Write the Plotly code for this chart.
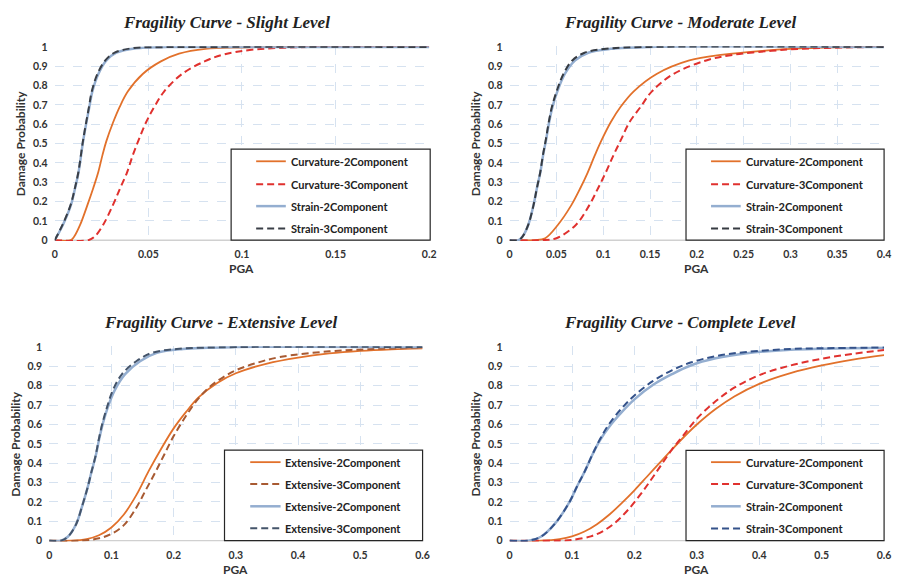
import plotly.graph_objects as go

W, H = 899, 578

# ------------------------------------------------------------------ data
titles = ["Fragility Curve - Slight Level", "Fragility Curve - Moderate Level",
          "Fragility Curve - Extensive Level", "Fragility Curve - Complete Level"]
names_cs = ["Curvature-2Component", "Curvature-3Component", "Strain-2Component", "Strain-3Component"]
names_ext = ["Extensive-2Component", "Extensive-3Component", "Extensive-2Component", "Extensive-3Component"]
x_title = "PGA"
y_title = "Damage Probability"

y_tick_vals = [0, 0.1, 0.2, 0.3, 0.4, 0.5, 0.6, 0.7, 0.8, 0.9, 1]
y_tick_text = ["0", "0.1", "0.2", "0.3", "0.4", "0.5", "0.6", "0.7", "0.8", "0.9", "1"]
x_ticks_slight = [0, 0.05, 0.1, 0.15, 0.2]
x_text_slight = ["0", "0.05", "0.1", "0.15", "0.2"]
x_ticks_moderate = [0, 0.05, 0.1, 0.15, 0.2, 0.25, 0.3, 0.35, 0.4]
x_text_moderate = ["0", "0.05", "0.1", "0.15", "0.2", "0.25", "0.3", "0.35", "0.4"]
x_ticks_wide = [0, 0.1, 0.2, 0.3, 0.4, 0.5, 0.6]
x_text_wide = ["0", "0.1", "0.2", "0.3", "0.4", "0.5", "0.6"]

# --- Slight level
slight_curv2_x = [0, 0.0085, 0.0105, 0.0136, 0.0174, 0.0206, 0.0232, 0.0255, 0.0275, 0.0312, 0.0347, 0.0391, 0.047, 0.0567, 0.0664, 0.0805, 0.1, 0.12, 0.2]
slight_curv2_y = [0, 0, 0.02, 0.08, 0.18, 0.27, 0.35, 0.44, 0.51, 0.61, 0.69, 0.77, 0.86, 0.925, 0.965, 0.99, 0.997, 1, 1]
slight_curv3_x = [0, 0.018, 0.0215, 0.0259, 0.031, 0.035, 0.0386, 0.0417, 0.0449, 0.0488, 0.0532, 0.0585, 0.068, 0.08, 0.09, 0.105, 0.13, 0.2]
slight_curv3_y = [0, 0, 0.02, 0.08, 0.18, 0.27, 0.35, 0.44, 0.52, 0.61, 0.69, 0.77, 0.86, 0.925, 0.96, 0.985, 0.998, 1]
slight_str2_x = [0, 0.0044, 0.0086, 0.0109, 0.0127, 0.0153, 0.0185, 0.0201, 0.0233, 0.0276, 0.0329, 0.0435, 0.06, 0.08, 0.2]
slight_str2_y = [0, 0.08, 0.18, 0.27, 0.35, 0.52, 0.69, 0.77, 0.86, 0.93, 0.97, 0.993, 0.999, 1, 1]
slight_str3_x = [0, 0.0042, 0.0084, 0.0108, 0.0126, 0.0152, 0.0183, 0.0198, 0.0228, 0.027, 0.032, 0.042, 0.06, 0.08, 0.2]
slight_str3_y = [0, 0.08, 0.18, 0.27, 0.35, 0.52, 0.69, 0.77, 0.86, 0.93, 0.97, 0.994, 0.999, 1, 1]

# --- Moderate level
moderate_curv2_x = [0, 0.027, 0.038, 0.0517, 0.0658, 0.0756, 0.0834, 0.0911, 0.0985, 0.108, 0.1186, 0.1326, 0.157, 0.192, 0.228, 0.27, 0.3, 0.35, 0.4]
moderate_curv2_y = [0, 0, 0.01, 0.08, 0.18, 0.27, 0.35, 0.44, 0.52, 0.61, 0.69, 0.77, 0.86, 0.93, 0.96, 0.98, 0.99, 0.998, 1]
moderate_curv3_x = [0, 0.034, 0.05, 0.071, 0.085, 0.0946, 0.1027, 0.111, 0.119, 0.128, 0.14, 0.152, 0.175, 0.21, 0.24, 0.28, 0.31, 0.37, 0.4]
moderate_curv3_y = [0, 0, 0.01, 0.08, 0.18, 0.27, 0.35, 0.44, 0.52, 0.61, 0.69, 0.77, 0.86, 0.93, 0.96, 0.98, 0.99, 0.998, 1]
moderate_str2_x = [0, 0.0095, 0.014, 0.02, 0.0255, 0.0292, 0.0328, 0.0358, 0.039, 0.0422, 0.0458, 0.051, 0.059, 0.07, 0.084, 0.108, 0.15, 0.4]
moderate_str2_y = [0, 0, 0.02, 0.08, 0.18, 0.27, 0.35, 0.44, 0.52, 0.61, 0.69, 0.77, 0.86, 0.93, 0.97, 0.99, 1, 1]
moderate_str3_x = [0, 0.0095, 0.014, 0.02, 0.0255, 0.0292, 0.0327, 0.0356, 0.0387, 0.0418, 0.0452, 0.0502, 0.0575, 0.067, 0.08, 0.103, 0.15, 0.4]
moderate_str3_y = [0, 0, 0.02, 0.08, 0.18, 0.27, 0.35, 0.44, 0.52, 0.61, 0.69, 0.77, 0.86, 0.93, 0.97, 0.99, 1, 1]

# --- Extensive level
extensive_o2_x = [0, 0.035, 0.06, 0.08, 0.1, 0.12, 0.14, 0.16, 0.18, 0.2, 0.22, 0.24, 0.27, 0.3, 0.35, 0.4, 0.45, 0.5, 0.55, 0.6]
extensive_o2_y = [0, 0, 0.008, 0.028, 0.068, 0.135, 0.235, 0.36, 0.475, 0.58, 0.665, 0.74, 0.815, 0.865, 0.915, 0.946, 0.967, 0.98, 0.988, 0.993]
extensive_o3_x = [0, 0.051, 0.08, 0.1, 0.12, 0.14, 0.155, 0.17, 0.185, 0.2, 0.22, 0.24, 0.26, 0.28, 0.3, 0.33, 0.37, 0.45, 0.52, 0.6]
extensive_o3_y = [0, 0, 0.012, 0.035, 0.08, 0.17, 0.26, 0.35, 0.445, 0.54, 0.645, 0.735, 0.8, 0.845, 0.88, 0.915, 0.948, 0.978, 0.99, 0.997]
extensive_b2_x = [0, 0.019, 0.03, 0.043, 0.0535, 0.0614, 0.0678, 0.0747, 0.08, 0.0863, 0.0943, 0.105, 0.122, 0.146, 0.173, 0.215, 0.3, 0.6]
extensive_b2_y = [0, 0, 0.02, 0.083, 0.184, 0.27, 0.353, 0.437, 0.52, 0.606, 0.69, 0.775, 0.86, 0.927, 0.97, 0.99, 1, 1]
extensive_b3_x = [0, 0.019, 0.03, 0.043, 0.0535, 0.0614, 0.0678, 0.0745, 0.0795, 0.0855, 0.093, 0.102, 0.117, 0.14, 0.165, 0.205, 0.3, 0.6]
extensive_b3_y = [0, 0, 0.02, 0.083, 0.184, 0.27, 0.353, 0.437, 0.52, 0.606, 0.69, 0.775, 0.86, 0.927, 0.97, 0.99, 1, 1]

# --- Complete level
complete_curv2_x = [0, 0.05, 0.08, 0.1, 0.12, 0.14, 0.16, 0.18, 0.2, 0.22, 0.24, 0.26, 0.28, 0.3, 0.33, 0.36, 0.4, 0.45, 0.5, 0.55, 0.6]
complete_curv2_y = [0, 0, 0.008, 0.022, 0.047, 0.085, 0.135, 0.195, 0.26, 0.33, 0.4, 0.47, 0.538, 0.6, 0.68, 0.745, 0.81, 0.865, 0.905, 0.935, 0.958]
complete_curv3_x = [0, 0.08, 0.1, 0.13, 0.15, 0.17, 0.19, 0.21, 0.23, 0.26, 0.28, 0.3, 0.33, 0.36, 0.4, 0.45, 0.5, 0.55, 0.6]
complete_curv3_y = [0, 0, 0.004, 0.022, 0.05, 0.095, 0.16, 0.24, 0.33, 0.47, 0.55, 0.63, 0.72, 0.79, 0.855, 0.905, 0.94, 0.965, 0.985]
complete_str2_x = [0, 0.03, 0.05, 0.072, 0.096, 0.108, 0.12, 0.132, 0.145, 0.16, 0.18, 0.2, 0.23, 0.26, 0.29, 0.33, 0.38, 0.45, 0.5, 0.6]
complete_str2_y = [0, 0, 0.02, 0.085, 0.2, 0.28, 0.355, 0.44, 0.52, 0.59, 0.665, 0.73, 0.805, 0.86, 0.905, 0.942, 0.968, 0.986, 0.991, 0.997]
complete_str3_x = [0, 0.03, 0.05, 0.072, 0.096, 0.108, 0.12, 0.132, 0.145, 0.16, 0.18, 0.2, 0.23, 0.26, 0.29, 0.33, 0.38, 0.45, 0.5, 0.6]
complete_str3_y = [0, 0, 0.02, 0.085, 0.2, 0.28, 0.355, 0.44, 0.525, 0.605, 0.685, 0.75, 0.825, 0.88, 0.92, 0.953, 0.975, 0.99, 0.994, 0.998]

# ------------------------------------------------------------------ styles
ORANGE = "#E2712B"
RED = "#E0312E"
LIGHTBLUE = "#94AED0"
BROWN = "#A85A32"
TICK_FONT = dict(family="Lato", size=10.5, color="#333333", weight="bold")
LEG_FONT = dict(family="Lato", size=11, color="#222222", weight="bold")
AX_FONT = dict(family="Lato", size=12, color="#333333", weight="bold")
TITLE_FONT = dict(family="Liberation Serif", size=17, color="#222222", weight="bold", style="italic")
DASH = "7px,4px"

panels = [
    dict(title=titles[0], names=names_cs, xt=x_ticks_slight, xtt=x_text_slight, xr=0.2,
         plot=(52.3, 431.0, 41.7, 238.7), title_xy=(226, 17), ytitle_x=18, xtitle_y=268,
         legend=(230.7, 432.0, 146.0, 238.7), leg_rows=(158.3, 181.7, 204.0, 226.7), leg_x=(256, 286, 289.5),
         series=[(slight_curv2_x, slight_curv2_y, ORANGE, "solid", 1.8),
                 (slight_curv3_x, slight_curv3_y, RED, DASH, 2.0),
                 (slight_str2_x, slight_str2_y, LIGHTBLUE, "solid", 2.5),
                 (slight_str3_x, slight_str3_y, "#3A3F47", DASH, 2.0)]),
    dict(title=titles[1], names=names_cs, xt=x_ticks_moderate, xtt=x_text_moderate, xr=0.4,
         plot=(512.3, 891.0, 41.7, 238.7), title_xy=(685, 17), ytitle_x=478, xtitle_y=268,
         legend=(690.7, 891.0, 146.0, 238.7), leg_rows=(158.3, 181.7, 204.0, 226.7), leg_x=(716, 746, 749.5),
         series=[(moderate_curv2_x, moderate_curv2_y, ORANGE, "solid", 1.8),
                 (moderate_curv3_x, moderate_curv3_y, RED, DASH, 2.0),
                 (moderate_str2_x, moderate_str2_y, LIGHTBLUE, "solid", 2.5),
                 (moderate_str3_x, moderate_str3_y, "#363B42", DASH, 2.0)]),
    dict(title=titles[2], names=names_ext, xt=x_ticks_wide, xtt=x_text_wide, xr=0.6,
         plot=(46.7, 424.3, 347.7, 545.0), title_xy=(220, 323), ytitle_x=13, xtitle_y=574,
         legend=(224.0, 424.3, 452.7, 545.0), leg_rows=(465.0, 487.3, 510.0, 532.3), leg_x=(250, 280.7, 283.5),
         series=[(extensive_o2_x, extensive_o2_y, ORANGE, "solid", 1.8),
                 (extensive_o3_x, extensive_o3_y, BROWN, DASH, 2.0),
                 (extensive_b2_x, extensive_b2_y, LIGHTBLUE, "solid", 2.5),
                 (extensive_b3_x, extensive_b3_y, "#44546A", DASH, 2.0)]),
    dict(title=titles[3], names=names_cs, xt=x_ticks_wide, xtt=x_text_wide, xr=0.6,
         plot=(512.3, 891.0, 347.7, 545.0), title_xy=(685, 323), ytitle_x=478, xtitle_y=574,
         legend=(690.7, 891.0, 453.0, 545.0), leg_rows=(465.0, 487.3, 510.0, 532.7), leg_x=(716, 746, 749.5),
         series=[(complete_curv2_x, complete_curv2_y, ORANGE, "solid", 1.8),
                 (complete_curv3_x, complete_curv3_y, RED, DASH, 2.0),
                 (complete_str2_x, complete_str2_y, LIGHTBLUE, "solid", 2.5),
                 (complete_str3_x, complete_str3_y, "#34528A", DASH, 2.0)]),
]


def px(x):
    return x / W


def py(y):
    return 1 - y / H


PAD = 0.004  # small range padding so lines at 0 and 1 are not clipped
fig = go.Figure()
shapes, annotations = [], []
layout = {}

for i, p in enumerate(panels, start=1):
    sfx = "" if i == 1 else str(i)
    xa, ya = "x" + sfx, "y" + sfx
    x0, x1, yt, yb = p["plot"]
    h = yb - yt
    ext = h * PAD
    layout["xaxis" + sfx] = dict(
        domain=[px(x0), px(x1)], range=[0, p["xr"]], anchor=ya,
        tickvals=p["xt"], ticktext=p["xtt"], tickfont=TICK_FONT, ticks="",
        showgrid=True, gridcolor="#D6E2F0", griddash="dash", gridwidth=1,
        zeroline=False, showline=False, ticklabelstandoff=6, fixedrange=True)
    layout["yaxis" + sfx] = dict(
        domain=[py(yb + ext), py(yt - ext)], range=[-PAD, 1 + PAD], anchor=xa,
        tickvals=y_tick_vals, ticktext=y_tick_text, tickfont=TICK_FONT, ticks="",
        showgrid=True, gridcolor="#D6E2F0", griddash="dash", gridwidth=1,
        zeroline=False, showline=False, ticklabelstandoff=6, fixedrange=True)

    # x axis baseline (light grey), drawn at y=0 of this subplot
    shapes.append(dict(type="line", xref=xa + " domain", yref=ya, x0=0, x1=1, y0=0, y1=0,
                       line=dict(color="#D0D0D0", width=1.5), layer="below"))

    for (xs, ys, col, dash, wdt), nm in zip(p["series"], p["names"]):
        fig.add_trace(go.Scatter(x=xs, y=ys, mode="lines", name=nm, xaxis=xa, yaxis=ya,
                                 line=dict(color=col, dash=dash, width=wdt, shape="spline", smoothing=1.0),
                                 showlegend=False, hoverinfo="skip"))

    # titles
    tx, ty = p["title_xy"]
    annotations.append(dict(text=p["title"], x=px(tx), y=py(ty), xref="paper", yref="paper",
                            xanchor="center", yanchor="middle", showarrow=False, font=TITLE_FONT))
    annotations.append(dict(text=y_title, x=px(p["ytitle_x"]), y=py((yt + yb) / 2), xref="paper", yref="paper",
                            xanchor="center", yanchor="middle", textangle=-90, showarrow=False, font=AX_FONT))
    annotations.append(dict(text=x_title, x=px((x0 + x1) / 2), y=py(p["xtitle_y"]), xref="paper", yref="paper",
                            xanchor="center", yanchor="middle", showarrow=False, font=AX_FONT))

    # legend box
    lx0, lx1, ly0, ly1 = p["legend"]
    shapes.append(dict(type="rect", xref="paper", yref="paper", x0=px(lx0), x1=px(lx1), y0=py(ly1), y1=py(ly0),
                       line=dict(color="#262626", width=1.2), fillcolor="white", layer="above"))
    sx0, sx1, tx0 = p["leg_x"]
    for (xs, ys, col, dash, wdt), nm, ry in zip(p["series"], p["names"], p["leg_rows"]):
        shapes.append(dict(type="line", xref="paper", yref="paper", x0=px(sx0), x1=px(sx1), y0=py(ry), y1=py(ry),
                           line=dict(color=col, dash=dash, width=wdt), layer="above"))
        annotations.append(dict(text=nm, x=px(tx0), y=py(ry), xref="paper", yref="paper",
                                xanchor="left", yanchor="middle", showarrow=False, font=LEG_FONT))

fig.update_layout(
    width=W, height=H, margin=dict(l=0, r=0, t=0, b=0),
    paper_bgcolor="white", plot_bgcolor="white", showlegend=False,
    shapes=shapes, annotations=annotations, **layout)

fig.write_html("out.html")
